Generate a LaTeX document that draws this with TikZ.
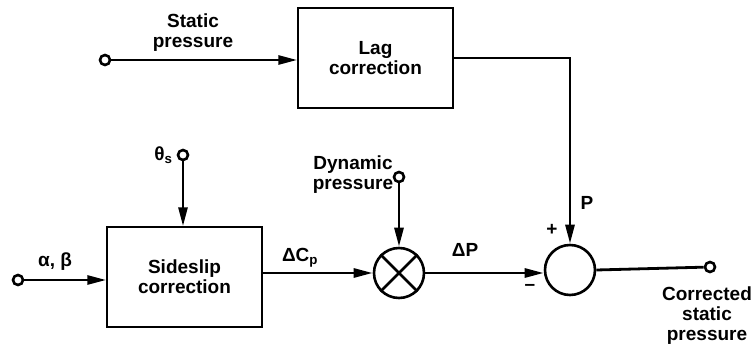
\documentclass[tikz,border=0pt]{standalone}
\usepackage{fontspec}
\setmainfont{Liberation Sans}
\usepackage{tikz}
\usetikzlibrary{arrows.meta,positioning,calc}

\begin{document}
\begin{tikzpicture}[
  x=1pt, y=-1pt,
  every node/.style={font=\fontsize{19}{20}\selectfont\bfseries},
  block/.style={draw, line width=1.5pt, align=center, minimum width=155pt, minimum height=100pt},
  junc/.style={draw, circle, line width=2.6pt, minimum size=50pt, inner sep=0pt},
  port/.style={draw, circle, line width=2.6pt, minimum size=10pt, inner sep=0pt},
  lbl/.style={align=center, inner sep=0pt},
  arrow/.style={-{Triangle[length=19pt,width=9pt]}, line width=2.8pt},
  wire/.style={line width=2.8pt}
]
\useasboundingbox (0,0) rectangle (755,353);

\node[block] (lag) at (375.5,58) {Lag\\correction};
\node[block] (side) at (184.5,277) {Sideslip\\correction};
\node[junc] (mult) at (399,273) {};
\node[junc] (sum) at (570,270) {};

\node[port] (sp_in) at (105,60) {};
\node[port] (theta_in) at (183,155) {};
\node[port] (ab_in) at (18,280) {};
\node[port] (dyn_in) at (399,177) {};
\node[port] (out) at (710,267) {};

\node[lbl] (sp_lbl) at (193,33) {Static\\pressure};
\node[lbl, left=4pt of theta_in] (theta_lbl) {θ\textsubscript{s}};
\node[lbl] (ab_lbl) at (55,262) {α, β};
\node[lbl] (dyn_lbl) at (353,175) {Dynamic\\pressure};
\node[lbl] (dcp_lbl) at (300,258) {ΔC\textsubscript{p}};
\node[lbl] (dp_lbl) at (465,250) {ΔP};
\node[lbl] (p_lbl) at (587,203) {P};
\node[lbl] (plus) at (552,230) {+};
\node[lbl] (minus) at (530,287) {\textendash};
\node[lbl] (out_lbl) at (707,316) {Corrected\\static\\pressure};

% multiplier cross
\draw[line width=2.6pt] (mult.north west) -- (mult.south east);
\draw[line width=2.6pt] (mult.north east) -- (mult.south west);

\draw[arrow] (sp_in) -- (sp_in -| lag.west);
\draw[arrow] (lag.east) -| (sum.north);
\draw[arrow] (theta_in) -- (theta_in |- side.north);
\draw[arrow] (ab_in) -- (ab_in -| side.west);
\draw[arrow] (side.east |- mult.west) -- (mult.west);
\draw[arrow] (dyn_in) -- (mult.north);
\draw[arrow] (mult.east) -- (mult.east -| sum.west);
\draw[wire] (sum.east) -- (out);
\end{tikzpicture}
\end{document}
